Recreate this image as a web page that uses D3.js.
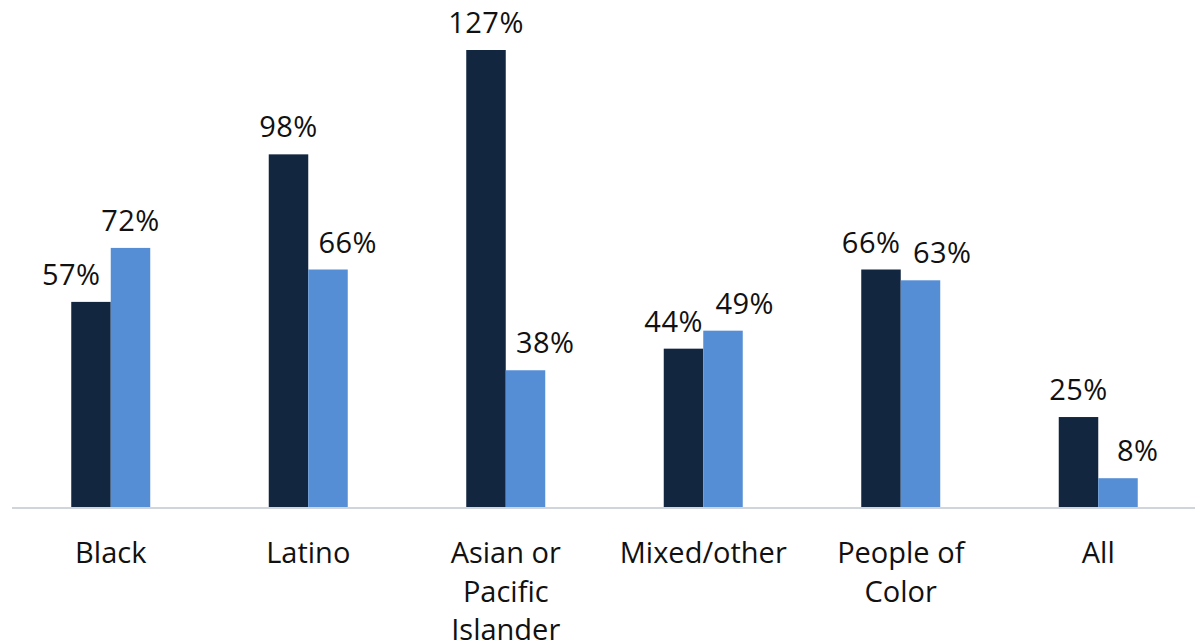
<!DOCTYPE html>
<html>
<head>
<meta charset="utf-8">
<script src="https://cdn.jsdelivr.net/npm/d3@7"></script>
<style>
  body { margin: 0; background: #fff; }
  text { font-family: "Open Sans", "Noto Sans", sans-serif; fill: #111; }
</style>
</head>
<body>
<div id="wrapper"></div>
<script>
// chart data
const categories = ["Black", "Latino", "Asian or Pacific Islander", "Mixed/other", "People of Color", "All"];
const categoryLines = [["Black"], ["Latino"], ["Asian or", "Pacific", "Islander"], ["Mixed/other"], ["People of", "Color"], ["All"]];
const seriesNames = ["series1", "series2"];
const series1 = [57, 98, 127, 44, 66, 25];
const series2 = [72, 66, 38, 49, 63, 8];
const colors = ["#132640", "#558ed5"];

function buildPlot() {
    let dimension = {
        width: 1203,
        height: 644,
        margin: { top: 50, right: 6, bottom: 137, left: 12 },
    }
    dimension.boundedWidth = dimension.width - dimension.margin.left - dimension.margin.right;
    dimension.boundedHeight = dimension.height - dimension.margin.top - dimension.margin.bottom;

    const wrapper = d3.select("#wrapper")
        .append("svg")
        .attr("width", dimension.width)
        .attr("height", dimension.height);

    const bounds = wrapper.append("g")
        .attr("transform", `translate(${dimension.margin.left},${dimension.margin.top})`);

    const data = categories.map((c, i) => ({ cat: c, i, values: [series1[i], series2[i]] }));

    const xScaler = d3.scaleBand()
        .domain(categories)
        .range([0, dimension.boundedWidth])
        .paddingInner(0.6)
        .paddingOuter(0.3);

    const xSub = d3.scaleBand()
        .domain(seriesNames)
        .range([0, xScaler.bandwidth()]);

    const yScaler = d3.scaleLinear()
        .domain([0, 127])
        .range([dimension.boundedHeight, 0]);

    const groups = bounds.selectAll(".grp")
        .data(data)
        .join("g")
        .attr("class", "grp")
        .attr("transform", d => `translate(${xScaler(d.cat)},0)`);

    groups.selectAll("rect")
        .data(d => d.values.map((v, k) => ({ v, k })))
        .join("rect")
        .attr("x", d => xSub(seriesNames[d.k]))
        .attr("width", xSub.bandwidth())
        .attr("y", d => yScaler(d.v))
        .attr("height", d => dimension.boundedHeight - yScaler(d.v))
        .attr("fill", d => colors[d.k]);

    // value labels: pushed apart so they don't sit on the neighbouring bar
    const half = xSub.bandwidth() / 2;
    groups.selectAll(".val")
        .data(d => d.values.map((v, k) => ({ v, k, other: d.values[1 - k] })))
        .join("text")
        .attr("class", "val")
        .attr("x", d => {
            const c = xSub(seriesNames[d.k]) + half;
            const close = Math.abs(d.v - d.other) < 8;
            if (close) return d.k === 0 ? c - half * 0.5 : c + half * 1.1;
            if (d.v < d.other) return d.k === 0 ? c - half : c + half;
            return c;
        })
        .attr("y", d => yScaler(d.v) - 17)
        .attr("text-anchor", "middle")
        .style("font-size", "29px")
        .style("letter-spacing", "0.5px")
        .text(d => d.v + "%");

    // baseline
    bounds.append("line")
        .attr("x1", 0)
        .attr("x2", dimension.boundedWidth - 2)
        .attr("y1", dimension.boundedHeight + 1)
        .attr("y2", dimension.boundedHeight + 1)
        .attr("stroke", "#d0d5dc")
        .attr("stroke-width", 2);

    // category labels
    const labels = bounds.selectAll(".cat")
        .data(data)
        .join("text")
        .attr("class", "cat")
        .attr("text-anchor", "middle")
        .attr("transform", d => `translate(${xScaler(d.cat) + xScaler.bandwidth() / 2},${dimension.boundedHeight + 56})`)
        .style("font-size", "29px");

    labels.selectAll("tspan")
        .data(d => categoryLines[d.i])
        .join("tspan")
        .attr("x", 0)
        .attr("y", (d, j) => j * 38.5)
        .text(d => d);
}

buildPlot()
</script>
</body>
</html>
